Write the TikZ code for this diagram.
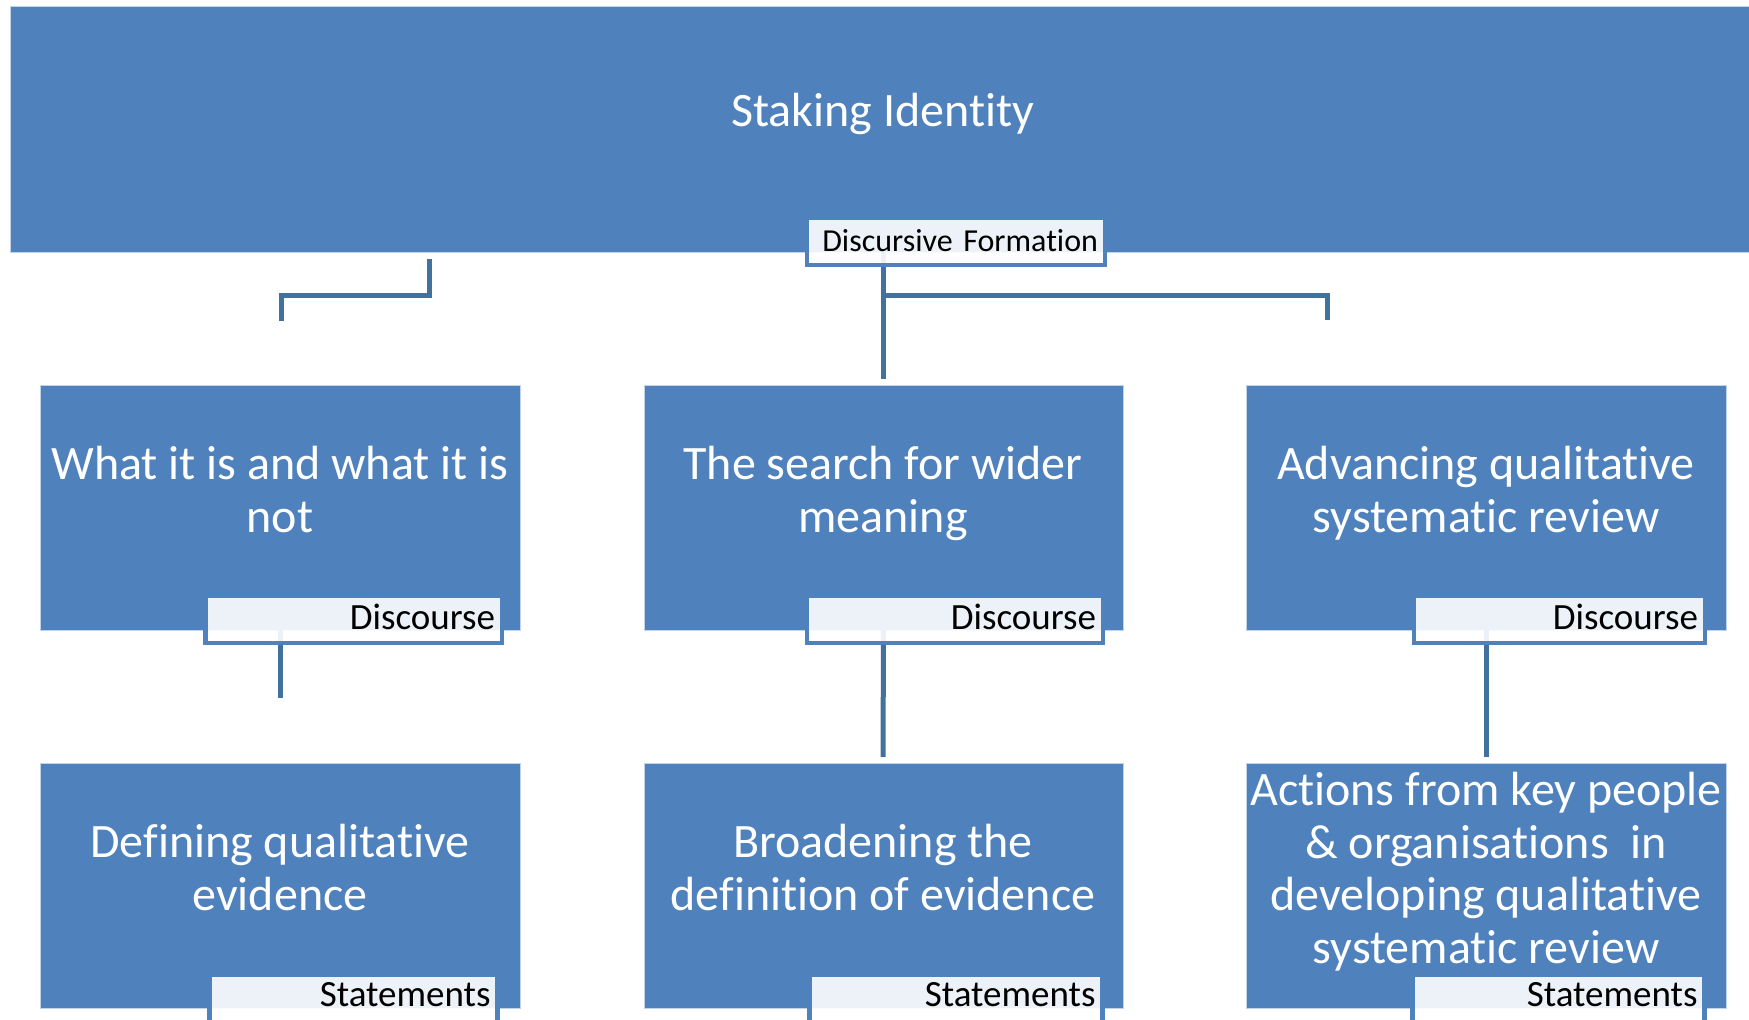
\documentclass[tikz,border=0pt]{standalone}
\usepackage{fontspec}
\setmainfont{Carlito}[Ligatures=NoCommon]
\definecolor{boxblue}{HTML}{4F81BD}
\definecolor{linkblue}{HTML}{41719C}
\begin{document}
\begin{tikzpicture}[x=0.5pt,y=-0.5pt,
  panel/.style={draw=white!65!boxblue, line width=0.5pt, fill=boxblue,
    inner sep=0pt, outer sep=0pt, anchor=north west},
  caption/.style={text=white, font=\fontsize{24}{26.25}\selectfont,
    align=center, inner sep=0pt, anchor=base},
  tag/.style={draw=boxblue, line width=2.25pt, fill=white, fill opacity=0.9,
    text opacity=1, text=black, inner xsep=3.5pt, inner ysep=0pt,
    minimum height=23.5pt, align=right, anchor=north west, outer sep=0pt},
  discourse/.style={tag, font=\fontsize{18.5}{21}\selectfont,
    text height=12.5pt, text depth=3pt},
  statement/.style={tag, font=\fontsize{18.5}{21}\selectfont,
    text height=11.5pt, text depth=4pt},
  link/.style={draw=linkblue, line width=2.5pt}]

\useasboundingbox (0,0) rectangle (1749,1019);

% main boxes
\node[panel, minimum width=880pt, minimum height=123pt] (top) at (10,6) {};
\node[panel, minimum width=240pt, minimum height=122.5pt] (lmid) at (40,385) {};
\node[panel, minimum width=239.5pt, minimum height=122.5pt] (cmid) at (644,385) {};
\node[panel, minimum width=240pt, minimum height=122.5pt] (rmid) at (1246,385) {};
\node[panel, minimum width=240pt, minimum height=122.5pt] (llow) at (40,763) {};
\node[panel, minimum width=239.5pt, minimum height=122.5pt] (clow) at (644,763) {};
\node[panel, minimum width=240pt, minimum height=122.5pt] (rlow) at (1246,763) {};

% box texts (anchored on the baseline of the last line)
\node[caption] (ttop) at (882.5,126) {Staking Identity};
\node[caption] (tlmid) at (280,532) {What it is and what it is\\not};
\node[caption] (tcmid) at (883,532) {The search for wider\\meaning};
\node[caption] (trmid) at (1486,532) {Advancing qualitative\\systematic review};
\node[caption] (tllow) at (280,910) {Defining qualitative\\evidence};
\node[caption] (tclow) at (883,910) {Broadening the\\definition of evidence};
\node[caption] (trlow) at (1486,963) {Actions from key people\\\& organisations~~in\\developing qualitative\\systematic review};

% free ends of the connectors
\coordinate (lstart) at (429,259);
\coordinate (lknee) at (429,295);
\coordinate (lend) at (281,321);
\coordinate (cstem) at (883,379);
\coordinate (cbranch) at (883,295);
\coordinate (rend) at (1327,320);
\coordinate (lwend) at (280,698);
\coordinate (cwend) at (883,757);
\coordinate (rwend) at (1486,757);

% connectors
\draw[link] (lstart) -- (lknee) -| (lend);
\draw[link] (883,252) -- (cstem);
\draw[link] (cbranch) -| (rend);
\draw[link] (lmid.south) -- (lwend);
\draw[link] (cmid.south) -- (cwend);
\draw[link] (rmid.south) -- (rwend);

% labels
\node[tag, font=\fontsize{16}{19}\selectfont, text height=12pt, text depth=2.5pt,
  minimum width=149pt, text width=142pt] (df) at (807,218) {Discursive Formation};
\node[discourse, minimum width=148.25pt, text width=141.25pt] (dl) at (205.5,596) {Discourse};
\node[discourse, minimum width=148pt, text width=141pt] (dc) at (807,596) {Discourse};
\node[discourse, minimum width=145.5pt, text width=138.5pt] (dr) at (1414,596) {Discourse};
\node[statement, minimum width=144pt, text width=137pt] (sl) at (209.5,975) {Statements};
\node[statement, minimum width=146.5pt, text width=139.5pt] (sc) at (809.5,975) {Statements};
\node[statement, minimum width=146pt, text width=139pt] (sr) at (1412.5,975) {Statements};
\end{tikzpicture}
\end{document}
